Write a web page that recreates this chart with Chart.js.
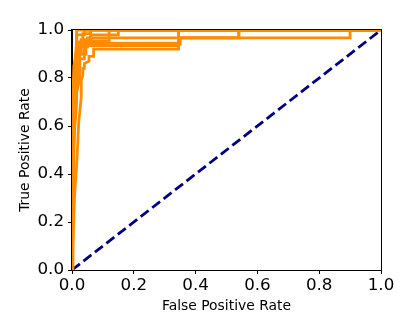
<!DOCTYPE html>
<html>
<head>
<meta charset="utf-8">
<script src="https://cdn.jsdelivr.net/npm/chart.js@4"></script>
<style>
  html, body { margin: 0; padding: 0; background: #fff; }
  #wrap { width: 415px; height: 332px; }
</style>
</head>
<body>
<div id="wrap"><canvas id="roc"></canvas></div>
<script>
// ROC curves, one per fold (false positive rate / true positive rate)
const fold1Fpr = [0, 0.002, 0.006, 0.01, 0.015, 0.015, 1];
const fold1Tpr = [0, 0.5, 0.72, 0.88, 0.95, 1, 1];
const fold2Fpr = [0, 0.003, 0.008, 0.02, 0.02, 0.03, 0.03, 0.06, 0.06, 0.15, 0.15, 1];
const fold2Tpr = [0, 0.55, 0.75, 0.85, 0.9, 0.9, 0.96, 0.96, 0.98, 0.98, 1, 1];
const fold3Fpr = [0, 0.004, 0.012, 0.025, 0.025, 0.04, 0.04, 0.35, 0.35, 0.54, 0.54, 1];
const fold3Tpr = [0, 0.5, 0.72, 0.8, 0.88, 0.88, 0.94, 0.94, 0.967, 0.967, 1, 1];
const fold4Fpr = [0, 0.002, 0.008, 0.02, 0.02, 0.05, 0.05, 0.9, 0.9, 1];
const fold4Tpr = [0, 0.6, 0.8, 0.86, 0.93, 0.93, 0.967, 0.967, 1, 1];
const fold5Fpr = [0, 0.008, 0.016, 0.022, 0.03, 0.03, 0.035, 0.035, 0.04, 0.04, 0.055, 0.055, 0.07, 0.07, 0.345, 0.345, 1];
const fold5Tpr = [0, 0.3, 0.46, 0.62, 0.72, 0.79, 0.81, 0.84, 0.84, 0.86, 0.87, 0.89, 0.89, 0.92, 0.92, 1, 1];
const fold6Fpr = [0, 0.004, 0.015, 0.015, 0.025, 0.025, 0.045, 0.045, 0.345, 0.345, 0.54, 0.54, 1];
const fold6Tpr = [0, 0.5, 0.7, 0.78, 0.78, 0.9, 0.9, 0.935, 0.935, 0.967, 0.967, 1, 1];
const fold7Fpr = [0, 0.001, 0.006, 0.015, 0.015, 0.04, 0.04, 1];
const fold7Tpr = [0, 0.65, 0.85, 0.9, 0.98, 0.98, 1, 1];
const fold8Fpr = [0, 0.002, 0.01, 0.03, 0.03, 0.12, 0.12, 1];
const fold8Tpr = [0, 0.55, 0.8, 0.94, 0.955, 0.955, 1, 1];
const fold9Fpr = [0, 0, 0.02, 0.02, 0.035, 0.035, 0.06, 0.06, 1];
const fold9Tpr = [0, 0.7, 0.88, 0.95, 0.95, 0.985, 0.985, 1, 1];
const fold10Fpr = [0, 0.005, 0.012, 0.02, 0.02, 0.028, 0.028, 0.345, 0.345, 1];
const fold10Tpr = [0, 0.45, 0.75, 0.82, 0.9, 0.9, 0.945, 0.945, 1, 1];

const chanceFpr = [0, 1];
const chanceTpr = [0, 1];

const axisTicks = [0, 0.2, 0.4, 0.6, 0.8, 1.0];

const folds = [
    [fold1Fpr, fold1Tpr], [fold2Fpr, fold2Tpr], [fold3Fpr, fold3Tpr],
    [fold4Fpr, fold4Tpr], [fold5Fpr, fold5Tpr], [fold6Fpr, fold6Tpr],
    [fold7Fpr, fold7Tpr], [fold8Fpr, fold8Tpr], [fold9Fpr, fold9Tpr],
    [fold10Fpr, fold10Tpr]
];

function toPoints(xs, ys) {
    return xs.map((x, i) => ({ x: x, y: ys[i] }));
}

const datasets = folds.map(f => ({
    data: toPoints(f[0], f[1]),
    borderColor: '#ff8c00',
    borderWidth: 2.8,
    pointRadius: 0,
    fill: false,
    tension: 0
}));

datasets.push({
    data: toPoints(chanceFpr, chanceTpr),
    borderColor: '#000080',
    borderWidth: 2.8,
    borderDash: [10, 4.5],
    pointRadius: 0,
    fill: false,
    tension: 0
});

// draw the full box around the plot like matplotlib spines
const frame = {
    id: 'frame',
    afterDraw(chart) {
        const a = chart.chartArea;
        const ctx = chart.ctx;
        ctx.save();
        ctx.strokeStyle = '#000';
        ctx.lineWidth = 1;
        ctx.strokeRect(a.left - 0.5, a.top - 0.5, a.right - a.left + 1, a.bottom - a.top + 1);
        ctx.restore();
    }
};

const tickFont = { family: 'DejaVu Sans', size: 16.7 };
const titleFont = { family: 'DejaVu Sans', size: 13.9 };

new Chart(document.getElementById('roc'), {
    type: 'line',
    data: { datasets: datasets },
    options: {
        responsive: true,
        maintainAspectRatio: false,
        animation: false,
        layout: { padding: { left: 0, right: 34, top: 30, bottom: 0 } },
        plugins: { legend: { display: false }, tooltip: { enabled: false } },
        scales: {
            x: {
                type: 'linear',
                min: 0,
                max: 1,
                afterBuildTicks: s => { s.ticks = axisTicks.map(v => ({ value: v })); },
                afterFit: s => { s.height = 62; },
                grid: { display: true, drawOnChartArea: false, drawTicks: true, tickLength: 4, color: '#000' },
                border: { display: true, color: '#000' },
                ticks: {
                    color: '#000',
                    font: tickFont,
                    padding: 2,
                    maxRotation: 0,
                    callback: v => Number(v).toFixed(1)
                },
                title: { display: true, text: 'False Positive Rate', color: '#000', font: titleFont, padding: { top: 2, bottom: 17 } }
            },
            y: {
                type: 'linear',
                min: 0,
                max: 1,
                afterBuildTicks: s => { s.ticks = axisTicks.map(v => ({ value: v })); },
                afterFit: s => { s.width = 72; },
                grid: { display: true, drawOnChartArea: false, drawTicks: true, tickLength: 4, color: '#000' },
                border: { display: true, color: '#000' },
                ticks: {
                    color: '#000',
                    font: tickFont,
                    padding: 4,
                    callback: v => Number(v).toFixed(1)
                },
                title: { display: true, text: 'True Positive Rate', color: '#000', font: titleFont, padding: { top: 17, bottom: 4 } }
            }
        }
    },
    plugins: [frame]
});
</script>
</body>
</html>
